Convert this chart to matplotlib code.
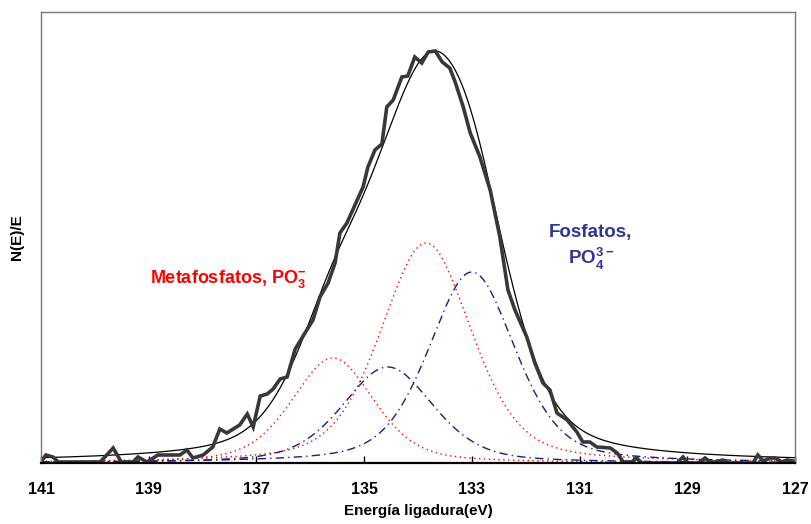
import numpy as np
import matplotlib
matplotlib.use("Agg")
import matplotlib.pyplot as plt

plt.rcParams['font.family'] = ['Liberation Sans', 'DejaVu Sans']
plt.rcParams['mathtext.fontset'] = 'custom'
plt.rcParams['mathtext.rm'] = 'Liberation Sans'
plt.rcParams['mathtext.bf'] = 'Liberation Sans:bold'

# measured spectrum (binding energy eV, intensity a.u.)
energy = [141.00, 140.91, 140.78, 140.68, 139.90, 139.66, 139.51, 139.29, 139.20, 139.03,
          138.83, 138.42, 138.29, 138.18, 137.99, 137.81, 137.68, 137.55, 137.31, 137.17,
          137.06, 136.93, 136.80, 136.69, 136.56, 136.43, 136.28, 136.19, 135.95, 135.82,
          135.67, 135.54, 135.45, 135.32, 135.17, 135.02, 134.93, 134.80, 134.67, 134.58,
          134.46, 134.30, 134.19, 134.06, 133.93, 133.81, 133.68, 133.55, 133.41, 133.31,
          133.16, 133.03, 132.85, 132.66, 132.48, 132.33, 132.20, 131.98, 131.83, 131.68,
          131.55, 131.42, 131.23, 131.05, 130.94, 130.81, 130.68, 130.43, 130.30, 130.19,
          130.03, 129.95, 129.84, 129.19, 129.08, 128.99, 128.80, 128.67, 128.58, 128.48,
          128.34, 128.24, 127.78, 127.69, 127.59, 127.46, 127.37, 127.24, 127.15, 127.04]
counts = [1, 8, 6, 1, 1, 15, 1, 1, 6, 1,
          8, 8, 13, 5, 8, 16, 34, 30, 38, 49,
          36, 67, 69, 74, 84, 86, 114, 122, 143, 166,
          180, 200, 230, 240, 258, 276, 296, 313, 319, 356,
          363, 386, 387, 406, 400, 411, 412, 401, 395, 381,
          356, 330, 306, 273, 226, 173, 153, 126, 100, 80,
          73, 50, 43, 31, 21, 21, 16, 15, 10, 1,
          1, 5, 0, 0, 6, 0, 0, 5, 1, 1,
          3, 0, 0, 8, 2, 5, 5, 1, 3, 2]

# fitted components (center eV, height, half width eV, lorentzian fraction)
meta_centers = [135.58, 133.85]
meta_heights = [105, 220]
meta_hwhm = [0.9, 1.0]
fos_centers = [134.56, 133.0]
fos_heights = [96, 191]
fos_hwhm = [1.0, 0.95]
lor_frac = 0.40
background = 0.5

xticks = [141, 139, 137, 135, 133, 131, 129, 127]


def pv(x, c, h, w, eta):
    d = (x - c) / w
    return h * ((1 - eta) * np.exp(-np.log(2) * d ** 2) + eta / (1 + d ** 2))


xs = np.linspace(141, 127, 800)
meta_curves = [pv(xs, c, h, w, lor_frac) for c, h, w in zip(meta_centers, meta_heights, meta_hwhm)]
fos_curves = [pv(xs, c, h, w, lor_frac) for c, h, w in zip(fos_centers, fos_heights, fos_hwhm)]
total = background + sum(meta_curves) + sum(fos_curves)

fig = plt.figure(figsize=(8.11, 5.24), dpi=100)
ax = fig.add_axes([41 / 811, (524 - 463) / 524, (795 - 41) / 811, (463 - 12) / 524])

for cv in meta_curves:
    ax.plot(xs, cv, color='#ff0000', lw=1.0, ls=(0, (1, 2.5)))
for cv in fos_curves:
    ax.plot(xs, cv, color='#1c1c8a', lw=1.0, ls=(0, (6, 3, 1, 3)))
ax.plot(xs, total, color='black', lw=0.9)
ax.plot(energy, counts, color='#383838', lw=2.6, solid_joinstyle='miter')

ax.set_xlim(141, 127)
ax.set_ylim(0, 451)
ax.set_xticks(xticks)
ax.set_xticklabels([str(t) for t in xticks], fontsize=11.5, fontweight='bold')
ax.tick_params(axis='x', direction='in', length=5, width=1, pad=14)
ax.set_yticks([])
for s in ['left', 'top', 'right']:
    ax.spines[s].set_color('#7a7a7a')
    ax.spines[s].set_linewidth(1.0)
ax.spines['bottom'].set_color('black')
ax.spines['bottom'].set_linewidth(1.6)

ax.set_xlabel('Energía ligadura(eV)', fontsize=11, fontweight='bold', labelpad=5)
ax.set_ylabel('N(E)/E', fontsize=11, fontweight='bold', labelpad=12)

ax.text(137.53, 184, r'Metafosfatos, PO$_{\mathbf{3}}^{\mathbf{-}}$', color='#ff0000',
        fontsize=13, fontweight='bold', ha='center', va='center')
ax.text(130.79, 230, 'Fosfatos,', color='#333399', fontsize=13.5, fontweight='bold',
        ha='center', va='center')
ax.text(130.79, 204, r'PO$_{\mathbf{4}}^{\mathbf{3-}}$', color='#333399', fontsize=13.5,
        fontweight='bold', ha='center', va='center')

fig.savefig('out.png', dpi=100)
